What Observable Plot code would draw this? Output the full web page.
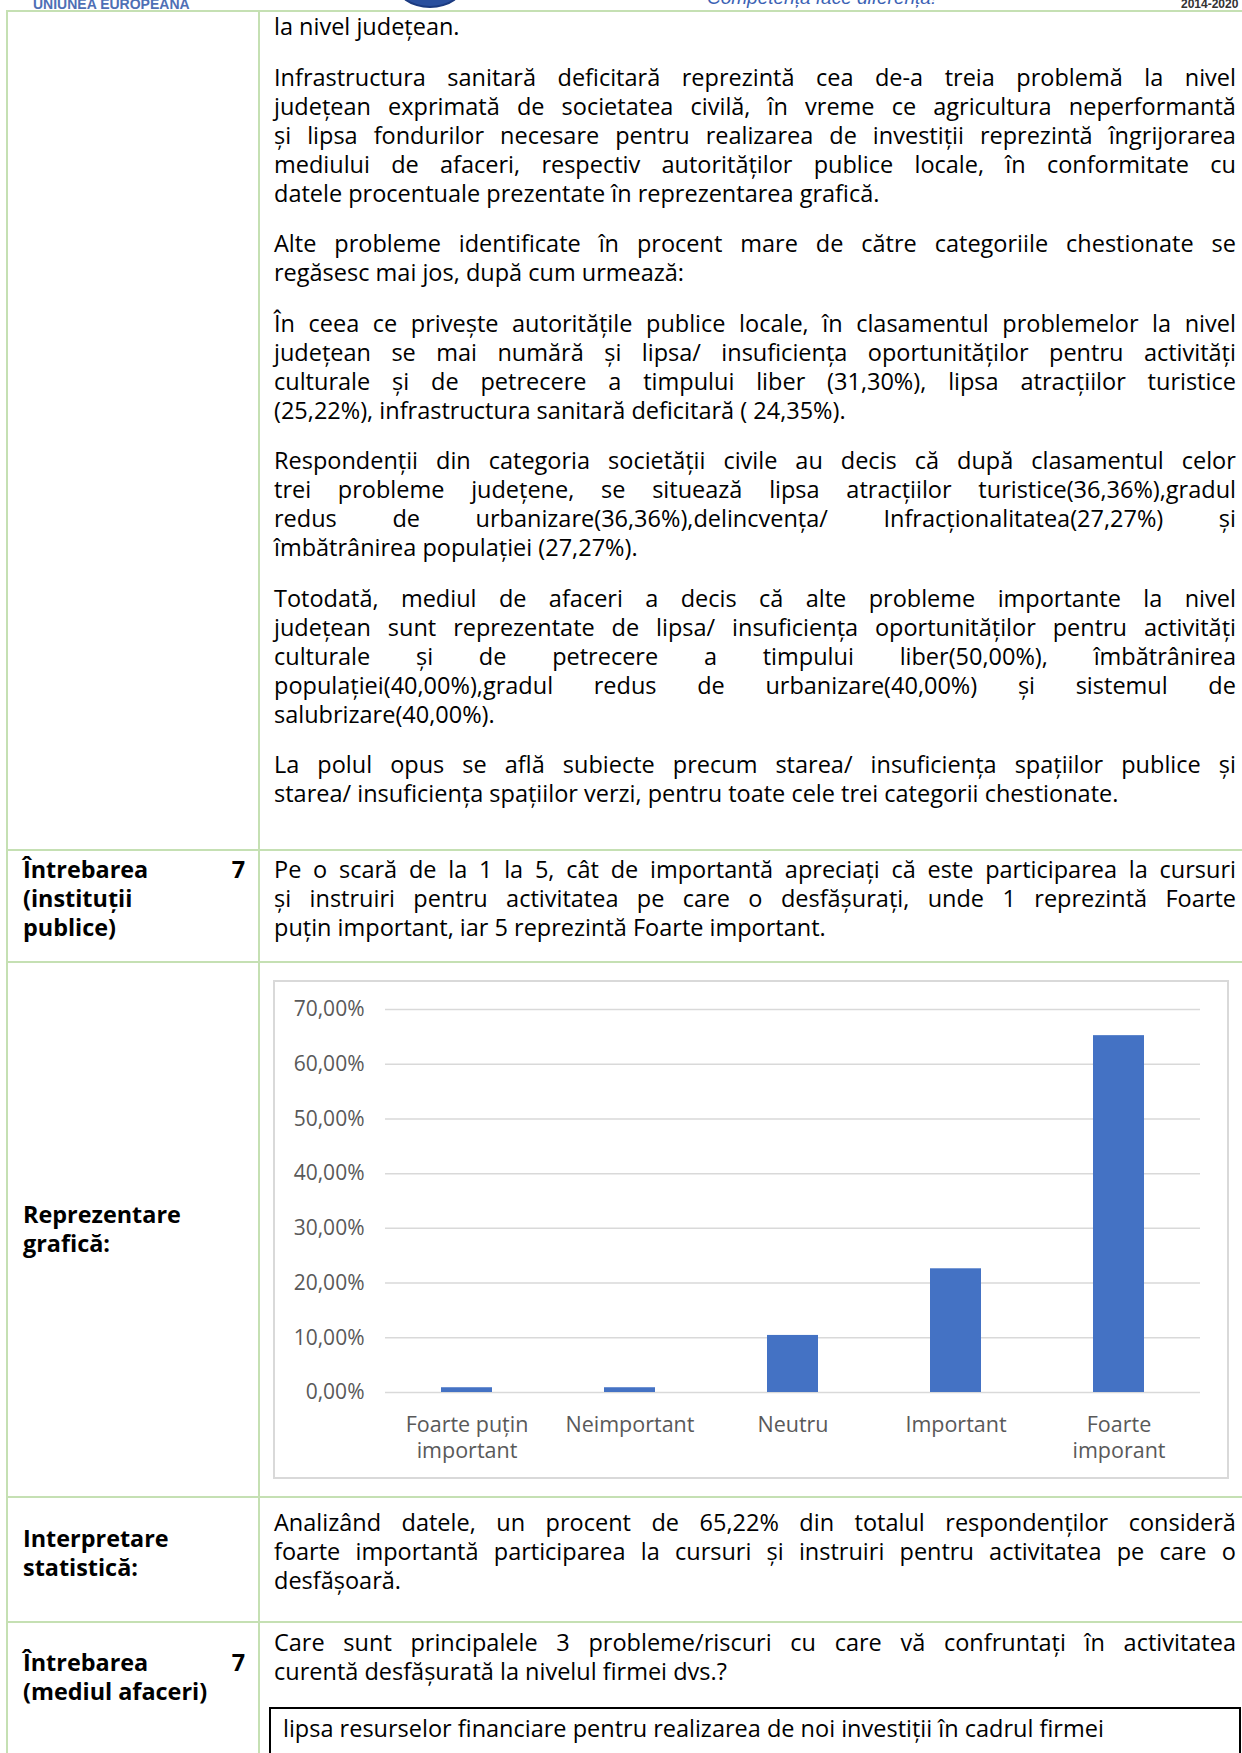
<!DOCTYPE html>
<html><head><meta charset="utf-8">
<script src="https://cdn.jsdelivr.net/npm/d3@7"></script>
<script src="https://cdn.jsdelivr.net/npm/@observablehq/plot@0.6"></script>
<style>
html,body{margin:0;padding:0;background:#fff;}
body{width:1242px;height:1753px;position:relative;overflow:hidden;font-family:"Open Sans",sans-serif;color:#000;}
.ln{position:absolute;font-size:23.5px;line-height:29px;white-space:nowrap;}
.j{display:flex;justify-content:space-between;}
.b{font-weight:bold;font-size:23.4px;}
.rule{position:absolute;background:#c5e0b3;}
.hdr{position:absolute;white-space:nowrap;}
#chartbox{position:absolute;left:273px;top:980px;width:956px;height:499px;border:2px solid #d9d9d9;box-sizing:border-box;}
#chart{position:absolute;left:275px;top:982px;}
#answer{position:absolute;left:269px;top:1707px;width:972px;height:90px;border:2px solid #000;box-sizing:border-box;}
</style></head><body>
<div class="hdr" style="left:33px;top:-4px;font:bold 14px/16px 'Liberation Sans',sans-serif;color:#4e6fb5;">UNIUNEA EUROPEANA</div>
<div class="hdr" style="left:395px;top:-42px;width:70px;height:50px;border-radius:50%;background:#2a4f9e;border:2px solid #1b3a80;box-sizing:border-box;"></div>
<div class="hdr" style="left:707px;top:-13px;font:italic 19px/22px 'Liberation Sans',sans-serif;color:#3b62b4;">Competența face diferența!</div>
<div class="hdr" style="left:1181px;top:-3px;font:bold 12px/14px 'Liberation Sans',sans-serif;color:#333;">2014-2020</div>
<div id="chartbox"></div>
<div id="chart"></div>
<div id="answer"></div>
<script>
// ---- chart data ----
const categories = ["Foarte puțin important", "Neimportant", "Neutru", "Important", "Foarte imporant"];
const tickLabels = ["Foarte puțin\nimportant", "Neimportant", "Neutru", "Important", "Foarte\nimporant"];
const values = [0.87, 0.87, 10.43, 22.61, 65.22];
const yTicks = [0, 10, 20, 30, 40, 50, 60, 70];

const data = categories.map((c, i) => ({cat: c, value: values[i]}));
const fmt = d => d.toFixed(2).replace(".", ",") + "%";

const chart = Plot.plot({
  width: 952, height: 495,
  marginLeft: 110, marginRight: 27, marginTop: 27, marginBottom: 85,
  style: {fontFamily: "'Open Sans', sans-serif", background: "transparent", overflow: "visible"},
  x: {domain: categories, paddingInner: 0.687, paddingOuter: 0.3435, axis: null, label: null},
  y: {domain: [0, 70], axis: null, label: null},
  marks: [
    Plot.gridY(yTicks, {stroke: "#d9d9d9", strokeOpacity: 1, strokeWidth: 1.5}),
    Plot.barY(data, {x: "cat", y: "value", fill: "#4472C4"}),
    Plot.axisY(yTicks, {tickSize: 0, tickPadding: 21, tickFormat: fmt, fontSize: 21, color: "#595959", label: null}),
    Plot.axisX({tickSize: 0, tickPadding: 21, tickFormat: d => tickLabels[categories.indexOf(d)], fontSize: 21.5, color: "#595959", lineHeight: 1.2, label: null})
  ]
});
document.getElementById("chart").appendChild(chart);

// ---- page text ----
function line(x, w, base, text, opts = {}) {
  const d = document.createElement("div");
  d.className = "ln" + (opts.j ? " j" : "") + (opts.b ? " b" : "");
  d.style.left = x + "px";
  d.style.top = (base - 23.6) + "px";
  d.style.width = w + "px";
  if (opts.j) {
    text.split(" ").forEach(t => { const s = document.createElement("span"); s.textContent = t; d.appendChild(s); });
  } else d.textContent = text;
  document.body.appendChild(d);
}
function para(x, w, base0, step, lines, opts = {}) {
  lines.forEach((t, i) => line(x, w, base0 + i * step, t, {...opts, j: opts.jall || i < lines.length - 1}));
}
function rule(x, y, w, h) {
  const d = document.createElement("div");
  d.className = "rule";
  Object.assign(d.style, {left: x + "px", top: y + "px", width: w + "px", height: h + "px"});
  document.body.appendChild(d);
}
// table rules
[11, 850, 962, 1497, 1622].forEach(y => rule(6, y - 1, 1250, 2));
[7, 259].forEach(x => rule(x - 1, 10, 2, 1760));

const RX = 274, RW = 962, LX = 23, LW = 222, LS = 29, PS = 50.5;
// row 1
const paras = [
  ["la nivel județean."],
  ["Infrastructura sanitară deficitară reprezintă cea de-a treia problemă la nivel",
   "județean exprimată de societatea civilă, în vreme ce agricultura neperformantă",
   "și lipsa fondurilor necesare pentru realizarea de investiții reprezintă îngrijorarea",
   "mediului de afaceri, respectiv autorităților publice locale, în conformitate cu",
   "datele procentuale prezentate în reprezentarea grafică."],
  ["Alte probleme identificate în procent mare de către categoriile chestionate se",
   "regăsesc mai jos, după cum urmează:"],
  ["În ceea ce privește autoritățile publice locale, în clasamentul problemelor la nivel",
   "județean se mai numără și lipsa/ insuficiența oportunităților pentru activități",
   "culturale și de petrecere a timpului liber (31,30%), lipsa atracțiilor turistice",
   "(25,22%), infrastructura sanitară deficitară ( 24,35%)."],
  ["Respondenții din categoria societății civile au decis că după clasamentul celor",
   "trei probleme județene, se situează lipsa atracțiilor turistice(36,36%),gradul",
   "redus de urbanizare(36,36%),delincvența/ Infracționalitatea(27,27%) și",
   "îmbătrânirea populației (27,27%)."],
  ["Totodată, mediul de afaceri a decis că alte probleme importante la nivel",
   "județean sunt reprezentate de lipsa/ insuficiența oportunităților pentru activități",
   "culturale și de petrecere a timpului liber(50,00%), îmbătrânirea",
   "populației(40,00%),gradul redus de urbanizare(40,00%) și sistemul de",
   "salubrizare(40,00%)."],
  ["La polul opus se află subiecte precum starea/ insuficiența spațiilor publice și",
   "starea/ insuficiența spațiilor verzi, pentru toate cele trei categorii chestionate."]
];
let yb = 36;
paras.forEach(p => { para(RX, RW, yb, LS, p); yb += (p.length - 1) * LS + PS; });

// row 2
line(LX, LW, 879, "Întrebarea 7", {b: true, j: true});
line(LX, LW, 908, "(instituții", {b: true});
line(LX, LW, 937, "publice)", {b: true});
para(RX, RW, 879, LS, [
  "Pe o scară de la 1 la 5, cât de importantă apreciați că este participarea la cursuri",
  "și instruiri pentru activitatea pe care o desfășurați, unde 1 reprezintă Foarte",
  "puțin important, iar 5 reprezintă Foarte important."]);
// row 3
line(LX, LW, 1224, "Reprezentare", {b: true});
line(LX, LW, 1253, "grafică:", {b: true});
// row 4
line(LX, LW, 1548, "Interpretare", {b: true});
line(LX, LW, 1577, "statistică:", {b: true});
para(RX, RW, 1532, LS, [
  "Analizând datele, un procent de 65,22% din totalul respondenților consideră",
  "foarte importantă participarea la cursuri și instruiri pentru activitatea pe care o",
  "desfășoară."]);
// row 5
line(LX, LW, 1672, "Întrebarea 7", {b: true, j: true});
line(LX, LW, 1701, "(mediul afaceri)", {b: true});
para(RX, RW, 1652, LS, [
  "Care sunt principalele 3 probleme/riscuri cu care vă confruntați în activitatea",
  "curentă desfășurată la nivelul firmei dvs.?"]);
line(283, 940, 1738, "lipsa resurselor financiare pentru realizarea de noi investiții în cadrul firmei");
</script>
</body></html>
